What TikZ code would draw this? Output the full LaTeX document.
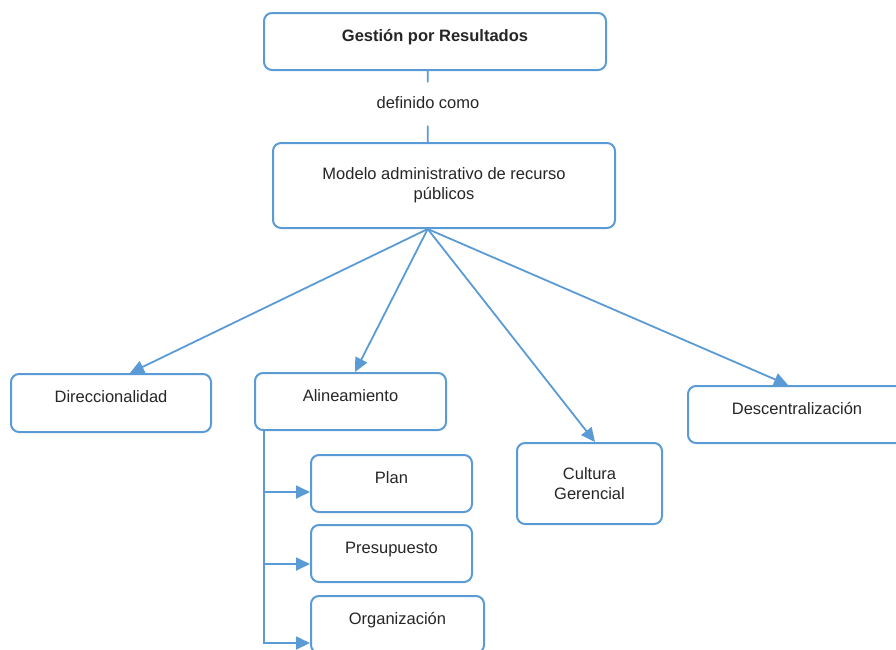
\documentclass[tikz,border=0pt]{standalone}
\usepackage{fontspec}
\setmainfont{Liberation Sans}
\usepackage{xcolor}
\usepackage{tikz}
\usetikzlibrary{arrows.meta}

\definecolor{azul}{RGB}{91,155,213}
\definecolor{texto}{RGB}{38,38,38}

\begin{document}
\begin{tikzpicture}[x=1pt, y=-1pt, node distance=70pt,
  caja/.style={rectangle, rounded corners=8pt, draw=azul, line width=2pt, fill=white, text=texto, align=center, font=\fontsize{16.5}{20}\selectfont},
  arriba/.style={text height=12pt, text depth=13pt},
  flecha/.style={draw=azul, line width=1.8pt, -{Triangle[length=14pt, width=13pt]}},
  linea/.style={draw=azul, line width=1.8pt}]
\useasboundingbox (0,0) rectangle (896,649);
\clip (0,0) rectangle (896,649);

\node (gestion) [caja, arriba, minimum width=342pt, minimum height=57pt] at (435,41.5) {\bfseries Gestión por Resultados};
\node (modelo) [caja, minimum width=342pt, minimum height=85pt] at (444,185.5) {Modelo administrativo de recurso\\públicos};
\node (definido) [text=texto, font=\fontsize{16.5}{20}\selectfont, inner ysep=14pt, text height=12pt, text depth=3pt] at (428,104) {definido como};
\coordinate (origen) at ([xshift=-16.3pt]modelo.south);

\node (direc) [caja, arriba, minimum width=200pt, minimum height=58pt] at (111,403) {Direccionalidad};
\node (alin) [caja, arriba, minimum width=191pt, minimum height=57pt] at (350.5,401.5) {Alineamiento};
\node (cultura) [caja, minimum width=145pt, minimum height=81pt] at (589.5,483.5) {Cultura\\Gerencial};
\node (descen) [caja, arriba, minimum width=218pt, minimum height=57pt] at (797,414.5) {Descentralización};

\node (plan) [caja, arriba, minimum width=161pt, minimum height=57pt] at (391.5,483.5) {Plan};
\node (presu) [caja, arriba, minimum width=161pt, minimum height=57pt, below of=plan] {Presupuesto};
\node (organ) [caja, arriba, minimum width=173pt, minimum height=57pt, below of=presu, xshift=6pt, yshift=-1pt] {Organización};
\coordinate (tronco) at ([xshift=10pt]alin.south west);

\draw[linea] (gestion.south -| origen) -- (definido);
\draw[linea] (definido) -- (modelo.north -| origen);

\draw[flecha] (origen) -- ([xshift=19pt]direc.north);
\draw[flecha] (origen) -- ([xshift=4.5pt]alin.north);
\draw[flecha] (origen) -- ([xshift=5.5pt]cultura.north);
\draw[flecha] (origen) -- ([xshift=-9pt]descen.north);

\draw[flecha] (tronco) |- ([yshift=-8.5pt]plan.west);
\draw[flecha] (tronco) |- ([yshift=-10.5pt]presu.west);
\draw[flecha] (tronco) |- ([yshift=-18.5pt]organ.west);
\end{tikzpicture}
\end{document}
